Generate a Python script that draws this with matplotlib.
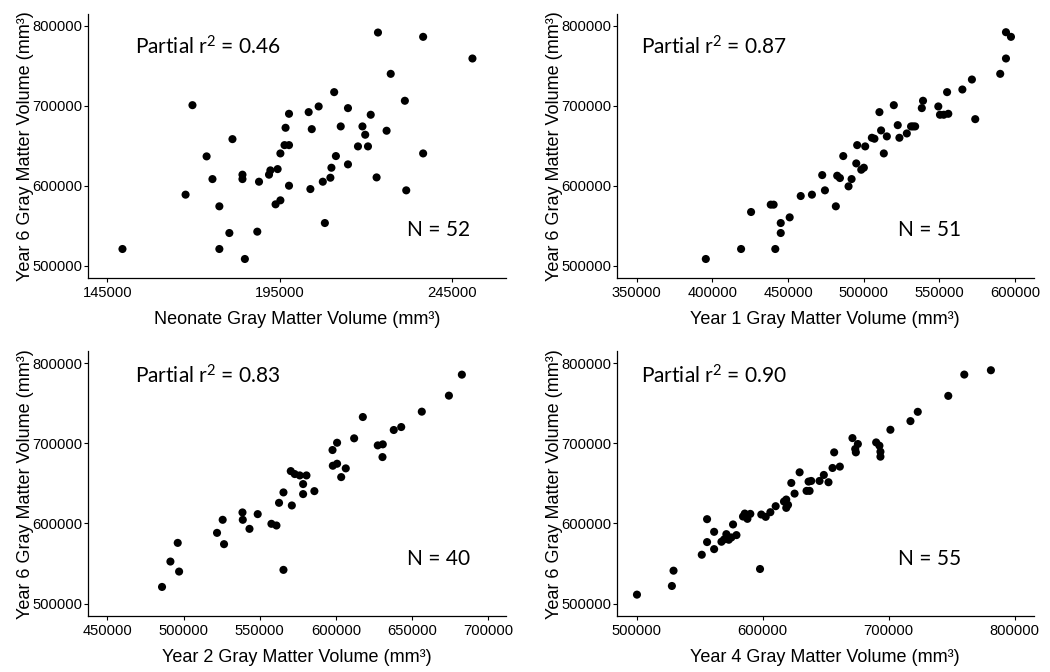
import matplotlib
matplotlib.use("Agg")
import matplotlib.pyplot as plt

plt.rcParams['font.family'] = ['Liberation Sans', 'DejaVu Sans']
# mathtext only used for the r^2 annotations (Calibri-like look)
plt.rcParams['mathtext.fontset'] = 'custom'
plt.rcParams['mathtext.rm'] = 'Lato'
plt.rcParams['mathtext.it'] = 'Lato'
plt.rcParams['mathtext.default'] = 'regular'

# --- data ---
neo_x = [149400, 167700, 169700, 173800, 175500, 177500, 177500, 180400, 181300, 184200,
         184200, 184900, 188500, 189000, 191900, 192300, 193800, 194400, 195200, 195200,
         196400, 197700, 196700, 197700, 197700, 203400, 203900, 204300, 206300, 207500,
         208100, 209700, 210000, 210800, 211300, 212700, 214800, 214800, 217700, 219000,
         219800, 220600, 221400, 223100, 223500, 226000, 227200, 231300, 231700, 236600,
         236600, 250900]
neo_y = [520800, 588800, 700800, 636700, 608300, 574200, 520800, 540800, 658300, 613800,
         608300, 508300, 542500, 605000, 613800, 619200, 576700, 620800, 581700, 640400,
         650800, 650800, 672500, 690000, 600000, 692100, 595800, 670800, 699200, 605000,
         553300, 610000, 622500, 717100, 637100, 674200, 697100, 626700, 649200, 674200,
         663800, 649200, 688800, 610400, 791700, 668800, 740000, 706300, 594200, 786300,
         640400, 759200]

y1_x = [395700, 419000, 425600, 438600, 440500, 441600, 445200, 445200, 451100, 458400,
        465800, 472600, 474400, 481600, 482500, 484300, 486500, 490000, 492000, 495100,
        495700, 498400, 500100, 501000, 505400, 507100, 510400, 511500, 513300, 515300,
        519900, 522500, 523600, 528500, 531300, 532600, 534000, 538400, 539200, 549300,
        550400, 552900, 555900, 555100, 565200, 571500, 573700, 590200, 594000, 594000,
        597300]
y1_y = [508300, 520800, 567100, 576300, 576300, 520800, 553300, 540800, 560400, 587100,
        588800, 613300, 594200, 574200, 612500, 609600, 637100, 599200, 608300, 627900,
        650800, 620000, 622500, 649200, 660000, 658800, 692100, 669200, 640400, 661700,
        700800, 675800, 660000, 665400, 674200, 674200, 674200, 697100, 706300, 699200,
        688800, 688800, 690000, 717100, 720400, 732900, 683300, 740000, 759200, 792100,
        786300]

y2_x = [485900, 491400, 496200, 497100, 522000, 525700, 526600, 538700, 538900, 543300,
        548700, 557700, 561000, 562700, 565600, 565600, 570400, 571100, 573000, 576300,
        578500, 578500, 580700, 585900, 597800, 598000, 600800, 600800, 603500, 606500,
        612000, 617700, 627500, 630800, 630600, 638000, 642900, 656400, 674200, 682700]
y2_y = [520800, 552500, 575800, 540000, 588300, 604600, 574200, 613800, 604600, 593300,
        611700, 599600, 597500, 625800, 638800, 542100, 665400, 622500, 661700, 660000,
        649200, 636700, 660000, 640400, 691700, 672100, 674600, 700800, 657900, 668800,
        706300, 732900, 697500, 698800, 682900, 716700, 720400, 739600, 759600, 785800]

y4_x = [500300, 528000, 529300, 551700, 555900, 555900, 561500, 561500, 567300, 571200,
        573100, 575200, 576500, 579200, 584400, 585800, 587900, 590200, 597900, 598900,
        602400, 606100, 610300, 616900, 618700, 618700, 620100, 622700, 625300, 629300,
        634800, 636400, 637200, 638500, 645100, 648500, 652200, 655400, 656700, 661200,
        671200, 673400, 673900, 675500, 690000, 692600, 693400, 693400, 701300, 717200,
        723000, 747200, 759900, 781000, 569400]
y4_y = [511200, 522000, 541100, 561000, 605400, 576800, 589600, 568000, 577200, 586700,
        579700, 582600, 598800, 585500, 608700, 612400, 605800, 612000, 543200, 611200,
        608300, 614100, 621600, 627400, 629900, 619500, 623200, 650600, 637300, 663900,
        640700, 652300, 640700, 653100, 653100, 660600, 651500, 669300, 688800, 671000,
        706600, 693000, 688800, 699200, 701200, 697100, 689600, 683400, 717000, 727800,
        739400, 759300, 785900, 791300, 580100]

x_labels = ["Neonate Gray Matter Volume (mm\u00b3)", "Year 1 Gray Matter Volume (mm\u00b3)",
            "Year 2 Gray Matter Volume (mm\u00b3)", "Year 4 Gray Matter Volume (mm\u00b3)"]
r2_text = ["Partial r$^{2}$ = 0.46", "Partial r$^{2}$ = 0.87",
           "Partial r$^{2}$ = 0.83", "Partial r$^{2}$ = 0.90"]
n_text = ["N = 52", "N = 51", "N = 40", "N = 55"]
x_ticks = [[145000, 195000, 245000],
           [350000, 400000, 450000, 500000, 550000, 600000],
           [450000, 500000, 550000, 600000, 650000, 700000],
           [500000, 600000, 700000, 800000]]
x_lims = [(139400, 260600), (336800, 612200), (437300, 711600), (484200, 814800)]
y_ticks = [500000, 600000, 700000, 800000]

xs = [neo_x, y1_x, y2_x, y4_x]
ys = [neo_y, y1_y, y2_y, y4_y]

fig = plt.figure(figsize=(10.5, 6.72), dpi=100)
boxes = [[0.0838, 0.5863, 0.398, 0.393],
         [0.5873, 0.5863, 0.397, 0.393],
         [0.0838, 0.0833, 0.398, 0.394],
         [0.5873, 0.0833, 0.397, 0.394]]
r2_pos = [(0.112, 0.875), (0.058, 0.875), (0.112, 0.906), (0.058, 0.906)]
n_pos = [(0.763, 0.182), (0.676, 0.182), (0.763, 0.215), (0.676, 0.215)]

for i in range(4):
    ax = fig.add_axes(boxes[i])
    ax.scatter(xs[i], ys[i], s=34, color='black', edgecolors='none', zorder=3)
    ax.set_xlim(x_lims[i])
    ax.set_ylim(484500, 815000)
    ax.set_xticks(x_ticks[i])
    ax.set_yticks(y_ticks)
    ax.set_xticklabels([str(t) for t in x_ticks[i]])
    ax.set_yticklabels([str(t) for t in y_ticks])
    for s in ['top', 'right']:
        ax.spines[s].set_visible(False)
    for s in ['left', 'bottom']:
        ax.spines[s].set_linewidth(0.9)
    ax.tick_params(axis='both', direction='out', length=3, width=0.8, labelsize=10.6)
    ax.tick_params(axis='y', pad=1)
    ax.tick_params(axis='x', pad=3)
    ax.set_xlabel(x_labels[i], fontsize=13)
    ax.set_ylabel("Year 6 Gray Matter Volume (mm\u00b3)", fontsize=13)
    ax.yaxis.set_label_coords(-0.128, 0.5)
    ax.xaxis.set_label_coords(0.5, -0.125)
    ax.text(r2_pos[i][0], r2_pos[i][1], r2_text[i], transform=ax.transAxes,
            fontsize=15, family=['Lato', 'DejaVu Sans'], va='center', ha='left')
    ax.text(n_pos[i][0], n_pos[i][1], n_text[i], transform=ax.transAxes,
            fontsize=15, family=['Lato', 'DejaVu Sans'], va='center', ha='left')

plt.savefig("out.png", dpi=100)
